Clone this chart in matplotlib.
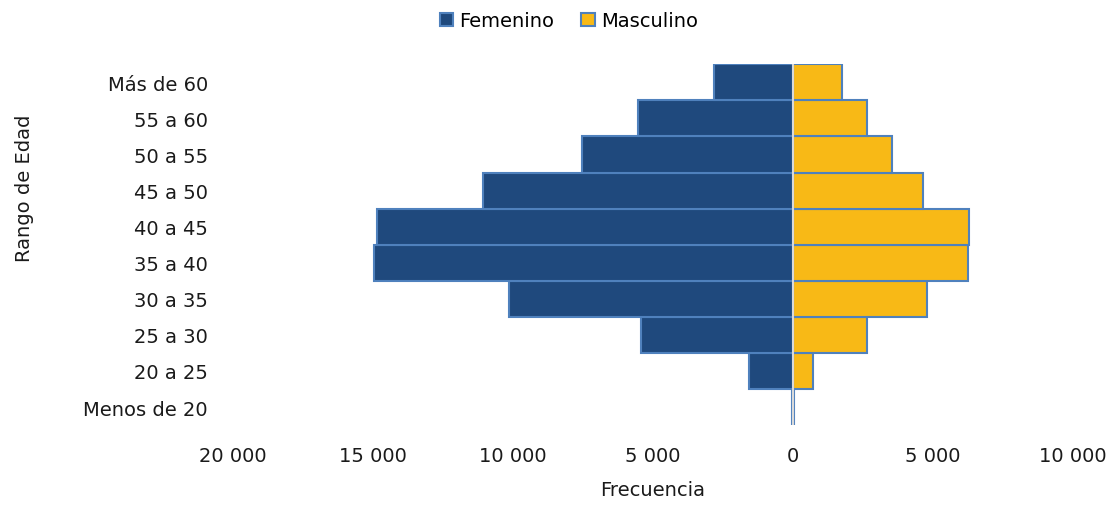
import numpy as np
import matplotlib
matplotlib.use("Agg")
import matplotlib.pyplot as plt
from matplotlib.ticker import FuncFormatter

# Datos
rangos = ["Menos de 20", "20 a 25", "25 a 30", "30 a 35", "35 a 40",
          "40 a 45", "45 a 50", "50 a 55", "55 a 60", "Más de 60"]
femenino = [40, 1550, 5420, 10130, 14950, 14840, 11050, 7540, 5530, 2830]
masculino = [30, 710, 2640, 4810, 6240, 6310, 4640, 3540, 2640, 1750]

plt.rcParams['font.family'] = ['DejaVu Sans']
fs = 14
txt = '#1a1a1a'

fig = plt.figure(figsize=(11.14, 5.06), dpi=100)
ax = fig.add_axes([0.209, 0.158, 0.754, 0.713])

y = np.arange(len(rangos))

# Femenino a la izquierda (valores negativos)
ax.barh(y, -np.array(femenino), height=1.0, color='#1F497D',
        edgecolor='#4F81BD', linewidth=1.5, label='Femenino')
ax.barh(y, masculino, height=1.0, color='#F8B916',
        edgecolor='#4F81BD', linewidth=1.5, label='Masculino')

ax.set_xlim(-20000, 10000)
ax.set_ylim(-0.5, len(rangos) - 0.5)
ax.set_xticks(np.arange(-20000, 10001, 5000))

def miles(v, pos):
    return f"{abs(int(v)):,}".replace(",", " ")

ax.xaxis.set_major_formatter(FuncFormatter(miles))
ax.set_yticks(y)
ax.set_yticklabels(rangos)

ax.tick_params(axis='both', length=0, labelsize=fs, colors=txt)
ax.tick_params(axis='y', pad=18)
ax.tick_params(axis='x', pad=15)

for s in ['top', 'right', 'bottom', 'left']:
    ax.spines[s].set_visible(False)

# linea del cero
ax.axvline(0, color='#D9D9D9', linewidth=1.5, zorder=3)

ax.set_xlabel('Frecuencia', fontsize=fs, color=txt, labelpad=11)
fig.text(0.022, 0.628, 'Rango de Edad', rotation=90, fontsize=fs,
         color=txt, ha='center', va='center')

ax.legend(loc='upper center', bbox_to_anchor=(0.40, 1.195), ncol=2,
          frameon=False, fontsize=fs, handlelength=0.7, handleheight=0.7,
          handletextpad=0.3, columnspacing=1.4)

fig.savefig('out.png', dpi=100)
